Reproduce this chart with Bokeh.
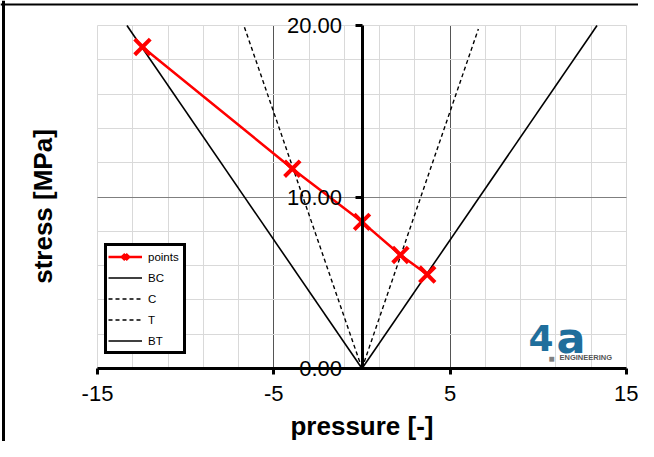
import math
from bokeh.plotting import figure
from bokeh.models import (Range1d, LinearAxis, FixedTicker, Legend, LegendItem,
                          Label, NumeralTickFormatter, Grid, Span)
from bokeh.embed import file_html
from bokeh.resources import INLINE

# ---- data ----
points_x = [-12.45, -3.95, 0.0, 2.18, 3.70]
points_y = [18.75, 11.65, 8.55, 6.62, 5.48]
bc_x = [0.0, -13.33]
bc_y = [0.0, 20.0]
c_x = [0.0, -6.70]
c_y = [0.0, 20.0]
t_x = [0.0, 6.60]
t_y = [0.0, 19.8]
bt_x = [0.0, 13.33]
bt_y = [0.0, 20.0]
x_ticks = [-15, -5, 5, 15]
y_ticks = [0, 10, 20]
x_bounds = (-15, 15)
y_bounds = (0, 20)

FONT = "Liberation Sans"
W, H = 638, 441
# pixel placement of the data box inside the canvas
PX_L, PX_R, PX_T, PX_B = 97, 626, 25, 368
sx = (PX_R - PX_L) / (x_bounds[1] - x_bounds[0])
sy = (PX_B - PX_T) / (y_bounds[1] - y_bounds[0])
xr = Range1d(x_bounds[0] - PX_L / sx, x_bounds[1] + (W - PX_R) / sx)
yr = Range1d(y_bounds[0] - (H - PX_B) / sy, y_bounds[1] + PX_T / sy)


def dx(px):
    return x_bounds[0] + (px - PX_L) / sx


def dy(py):
    return (PX_B - py) / sy


p = figure(width=W, height=H, output_backend="svg", toolbar_location=None,
           x_range=xr, y_range=yr, x_axis_type=None, y_axis_type=None,
           min_border=0, min_border_left=0, min_border_right=0,
           min_border_top=0, min_border_bottom=0,
           background_fill_color="white", border_fill_color="white",
           outline_line_color=None)

# sheet frame lines (top and left) seen in the reference screenshot
p.add_layout(Span(location=dx(3), dimension="height", line_color="black", line_width=3))
p.add_layout(Span(location=dy(4), dimension="width", line_color="black", line_width=2))

# grids
x_minor = [v for v in range(-15, 16, 2) if v not in (-5, 5)]
y_minor = [v for v in range(0, 21, 2) if v != 10]
p.add_layout(Grid(dimension=0, ticker=FixedTicker(ticks=[-5, 5], minor_ticks=x_minor),
                  bounds=x_bounds, cross_bounds=y_bounds,
                  grid_line_color="#555555", grid_line_width=1,
                  minor_grid_line_color="#d9d9d9", minor_grid_line_width=1))
p.add_layout(Grid(dimension=1, ticker=FixedTicker(ticks=[10], minor_ticks=y_minor),
                  bounds=y_bounds, cross_bounds=x_bounds,
                  grid_line_color="#7f7f7f", grid_line_width=1,
                  minor_grid_line_color="#d9d9d9", minor_grid_line_width=1))

# x axis at y = 0
xaxis = LinearAxis(ticker=FixedTicker(ticks=x_ticks), formatter=NumeralTickFormatter(format="0"),
                   axis_label="pressure [-]", fixed_location=0, bounds=x_bounds)
xaxis.axis_line_width = 3
xaxis.axis_line_color = "black"
xaxis.major_tick_line_width = 3
xaxis.major_tick_out = 6
xaxis.major_tick_in = 0
xaxis.minor_tick_line_color = None
xaxis.major_label_text_font = FONT
xaxis.major_label_text_font_size = "22px"
xaxis.major_label_text_color = "black"
xaxis.major_label_standoff = 11
xaxis.axis_label_text_font = FONT
xaxis.axis_label_text_font_size = "26px"
xaxis.axis_label_text_font_style = "bold"
xaxis.axis_label_text_color = "black"
xaxis.axis_label_standoff = 7
p.add_layout(xaxis, "below")

# y axis at x = 0
yaxis = LinearAxis(ticker=FixedTicker(ticks=y_ticks), formatter=NumeralTickFormatter(format="0.00"),
                   fixed_location=0, bounds=y_bounds)
yaxis.axis_line_width = 3
yaxis.axis_line_color = "black"
yaxis.major_tick_line_width = 3
yaxis.major_tick_out = 7
yaxis.major_tick_in = 0
yaxis.minor_tick_line_color = None
yaxis.major_label_text_font = FONT
yaxis.major_label_text_font_size = "22px"
yaxis.major_label_text_color = "black"
yaxis.major_label_standoff = 13
p.add_layout(yaxis, "left")

# y title
p.add_layout(Label(x=dx(42), y=dy(206),
                   text="stress [MPa]", angle=math.pi / 2, text_align="center",
                   text_baseline="middle", text_font=FONT, text_font_size="26px",
                   text_font_style="bold", text_color="black"))

# series
r_bc = p.line(bc_x, bc_y, line_color="black", line_width=1.6)
r_c = p.line(c_x, c_y, line_color="black", line_width=1.4, line_dash="4 3")
r_t = p.line(t_x, t_y, line_color="black", line_width=1.4, line_dash="4 3")
r_bt = p.line(bt_x, bt_y, line_color="black", line_width=1.6)
r_pl = p.line(points_x, points_y, line_color="#ff0000", line_width=2.5)
r_pm = p.scatter(points_x, points_y, marker="x", size=22, line_color="#ff0000", line_width=4)

legend = Legend(items=[
    LegendItem(label="points", renderers=[r_pl, r_pm]),
    LegendItem(label="BC", renderers=[r_bc]),
    LegendItem(label="C", renderers=[r_c]),
    LegendItem(label="T", renderers=[r_t]),
    LegendItem(label="BT", renderers=[r_bt]),
], location=(104, H - 354))
legend.border_line_color = "black"
legend.border_line_alpha = 1
legend.border_line_width = 3
legend.background_fill_color = "white"
legend.background_fill_alpha = 1
legend.label_text_font = FONT
legend.label_text_font_size = "11.5px"
legend.label_text_color = "black"
legend.padding = 1
legend.spacing = 2
legend.label_height = 19
legend.glyph_height = 19
legend.glyph_width = 34
legend.label_width = 34
legend.label_standoff = 6
legend.margin = 0
p.add_layout(legend, "center")

# logo
p.add_layout(Label(x=dx(528), y=dy(337), text="4", text_font="DejaVu Sans", text_font_size="36px",
                   text_font_style="bold", text_color="#1f6e9c", text_baseline="middle"))
p.add_layout(Label(x=dx(556), y=dy(337), text="a", text_font="DejaVu Sans", text_font_size="43px",
                   text_font_style="bold", text_color="#1f6e9c", text_baseline="middle"))
p.add_layout(Label(x=dx(548), y=dy(358), text="■", text_font=FONT, text_font_size="10px",
                   text_color="#808080", text_baseline="middle"))
p.add_layout(Label(x=dx(559), y=dy(357), text="ENGINEERING", text_font=FONT, text_font_size="7.5px",
                   text_font_style="bold", text_color="#555555", text_baseline="middle"))

open("out.html", "w").write(file_html(p, INLINE))
